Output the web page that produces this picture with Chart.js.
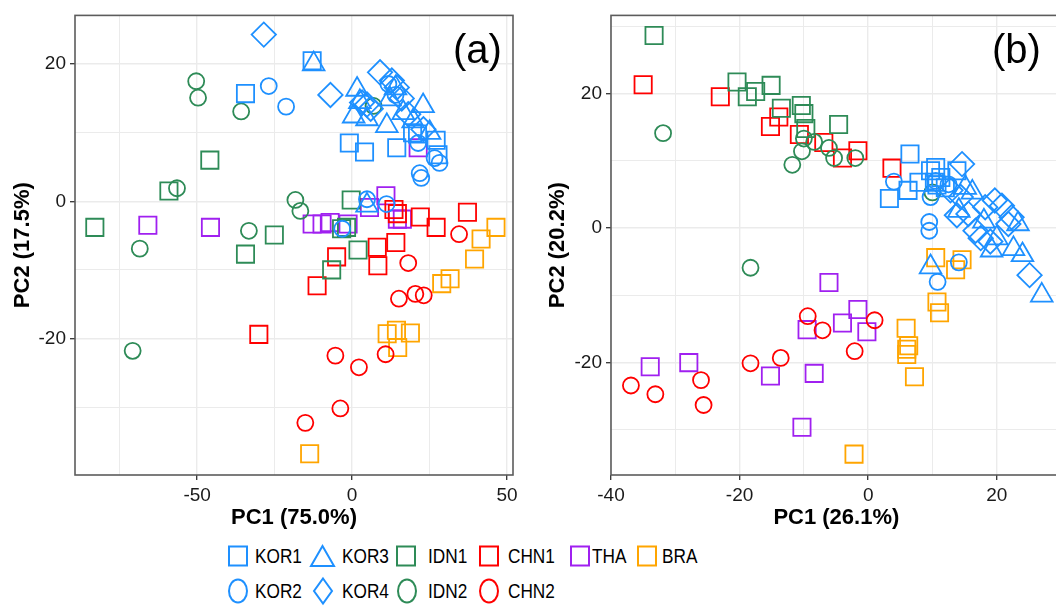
<!DOCTYPE html>
<html lang="en">
<head>
<meta charset="UTF-8">
<title>PCA score plots (a) and (b)</title>
<script src="https://cdn.jsdelivr.net/npm/chart.js@4.4.0/dist/chart.umd.min.js"></script>
<style>
  *{box-sizing:border-box;margin:0;padding:0}
  html,body{width:1056px;height:606px;overflow:hidden;background:#fff}
  body{position:relative;font-family:'Liberation Sans',Arial,sans-serif;color:#000}
  canvas{position:absolute;top:0}
  #pa{left:0}
  #pb{left:540px}
  .tag{position:absolute;top:25px;font-size:40px;line-height:48px}
  /* legend */
  .key{position:absolute;height:28px;font-size:21px;line-height:28px;white-space:nowrap}
  .key svg{position:absolute;top:50%;transform:translateY(-50%);overflow:visible}
  .key span{position:absolute;top:0;transform:scaleX(.82);transform-origin:0 50%}
</style>
</head>
<body>
<canvas id="pa" width="530" height="540"></canvas>
<canvas id="pb" width="536" height="540"></canvas>
<div class="tag" style="left:453px">(a)</div>
<div class="tag" style="left:992px">(b)</div>
<div id="legend"></div>

<script>
// groups, in legend / factor order
const groups = ['KOR1','KOR2','KOR3','KOR4','IDN1','IDN2','CHN1','CHN2','THA','BRA'];

// panel (a) scores: [PC1, PC2]
const a_KOR1 = [[-34.4,15.7],[-12.9,20.5],[-0.9,8.5],[4.0,7.2],[14.4,7.8],[19.5,10.0],[21.1,9.8],[27.1,8.9],[27.7,6.8]];
const a_KOR2 = [[-26.9,16.8],[-21.3,13.8],[4.8,0.3],[11.1,-0.4],[-3.2,-4.0],[11.7,17.1],[21.3,8.5],[28.2,5.6],[21.8,4.1],[22.3,3.4],[26.6,6.3],[14.0,15.5]];
const a_KOR3 = [[-12.4,20.0],[1.6,16.3],[0.5,12.4],[4.8,12.0],[12.2,14.9],[22.9,13.9],[11.2,11.0],[16.5,12.9],[19.7,11.7],[4.8,-0.6],[2.5,14.5],[14.0,16.5],[25.0,10.0]];
const a_KOR4 = [[-28.5,24.3],[-7.0,15.5],[9.0,18.8],[12.8,17.6],[3.2,14.4],[4.8,14.1],[14.4,16.6],[18.1,12.7],[6.0,13.5],[23.0,10.5],[16.0,15.0]];
const a_IDN1 = [[-45.9,6.0],[-59.1,1.5],[-83.0,-3.8],[-25.1,-4.9],[-34.4,-7.7],[-0.3,0.2],[-3.4,-4.0],[-1.8,-3.8],[1.9,-7.1],[-6.6,-10.0]];
const a_IDN2 = [[-50.3,17.5],[-49.7,15.1],[-35.8,13.1],[-56.5,1.9],[-33.3,-4.3],[-68.5,-6.9],[-18.3,0.2],[-16.7,-1.4],[-70.8,-21.8],[6.9,13.9]];
const a_CHN1 = [[-30.1,-19.4],[13.5,-1.2],[14.6,-1.8],[22.0,-2.3],[37.2,-1.6],[27.1,-3.8],[14.1,-6.0],[8.1,-6.7],[-5.0,-8.1],[8.3,-9.4],[-11.3,-12.3]];
const a_CHN2 = [[34.5,-4.8],[18.1,-9.0],[15.1,-14.2],[20.4,-13.5],[23.1,-13.7],[-5.4,-22.5],[2.2,-24.2],[10.8,-22.3],[-3.8,-30.2],[-15.1,-32.3]];
const a_THA  = [[-65.9,-3.5],[-45.7,-3.8],[-12.9,-3.3],[-9.7,-3.3],[-7.1,-3.1],[-1.3,-3.3],[5.6,-0.9],[10.9,0.8],[14.6,-2.6],[16.2,-2.6],[21.3,7.8]];
const a_BRA  = [[46.4,-3.8],[41.6,-5.5],[39.5,-8.4],[28.9,-12.0],[31.6,-11.3],[11.3,-19.3],[14.3,-18.8],[18.8,-19.2],[14.7,-21.3],[-13.7,-36.8]];

// panel (b) scores
const b_KOR1 = [[6.5,11.0],[3.3,4.4],[6.2,5.6],[7.9,6.8],[9.7,8.5],[10.5,9.0],[10.3,6.8],[11.3,7.5],[13.8,8.5],[10.7,6.4],[12.0,6.0]];
const b_KOR2 = [[4.0,6.9],[9.7,4.6],[10.5,7.0],[9.5,0.9],[9.5,-0.4],[10.8,-8.0],[14.1,-5.1],[12.5,6.5]];
const b_KOR3 = [[15.1,6.0],[16.2,5.3],[19.2,-3.3],[22.6,-3.1],[14.1,2.6],[23.3,0.6],[9.7,-5.8],[27.0,-10.0],[18.0,1.0],[20.0,-1.5],[24.0,-4.0]];
const b_KOR4 = [[14.6,9.5],[12.8,5.6],[14.4,4.6],[13.8,1.9],[15.6,2.1],[16.7,-0.4],[18.2,3.1],[19.7,4.1],[20.8,3.3],[22.3,1.6],[21.8,0.6],[25.1,-7.0],[17.5,-1.5],[19.0,-2.0]];
const b_IDN1 = [[-33.3,28.6],[-20.4,21.7],[-18.8,19.5],[-17.5,20.3],[-15.1,21.2],[-13.5,17.8],[-10.4,18.2],[-10.0,17.0],[-9.7,14.8],[-4.6,15.4]];
const b_IDN2 = [[-31.9,14.1],[-10.0,13.3],[-8.4,12.8],[-10.3,11.4],[-11.8,9.4],[-6.1,11.9],[-5.3,10.4],[-2.0,10.4],[10.0,5.3],[-18.3,-5.9]];
const b_CHN1 = [[-35.0,21.3],[-23.0,19.5],[-13.9,16.5],[-15.2,15.1],[-10.7,13.9],[-6.9,12.7],[-4.0,10.4],[-1.6,11.5],[3.7,8.9]];
const b_CHN2 = [[-9.4,-13.1],[1.0,-13.7],[-7.1,-15.2],[-2.1,-18.3],[-18.3,-20.1],[-13.6,-19.3],[-36.9,-23.4],[-33.1,-24.7],[-26.0,-22.6],[-25.6,-26.3]];
const b_THA  = [[-6.1,-8.1],[-1.6,-12.1],[-4.0,-14.1],[-9.5,-15.1],[-0.2,-15.4],[-15.2,-22.0],[-8.4,-21.6],[-33.9,-20.6],[-27.9,-20.0],[-10.3,-29.6]];
const b_BRA  = [[10.5,-4.4],[14.6,-4.7],[13.6,-6.2],[10.7,-11.0],[11.1,-12.6],[5.9,-14.9],[6.0,-18.0],[6.0,-18.8],[6.3,-17.5],[7.2,-22.1],[-2.2,-33.6]];

// grid positions and labelled ticks
const a_xTicks = [-75,-50,-25,0,25,50], a_xLabels = [-50,0,50];
const a_yTicks = [-30,-20,-10,0,10,20], a_yLabels = [-20,0,20];
const b_xTicks = [-40,-30,-20,-10,0,10,20], b_xLabels = [-40,-20,0,20];
const b_yTicks = [-30,-20,-10,0,10,20,30], b_yLabels = [-20,0,20];

const a_titles = ['PC1 (75.0%)','PC2 (17.5%)'];
const b_titles = ['PC1 (26.1%)','PC2 (20.2%)'];

/* styling */
const colour = {KOR1:'#1E90FF',KOR2:'#1E90FF',KOR3:'#1E90FF',KOR4:'#1E90FF',IDN1:'#2E8B57',IDN2:'#2E8B57',CHN1:'#FF0000',CHN2:'#FF0000',THA:'#A020F0',BRA:'#FFA500'};
const shape = {KOR1:'rect',KOR2:'circle',KOR3:'triangle',KOR4:'rectRot',IDN1:'rect',IDN2:'circle',CHN1:'rect',CHN2:'circle',THA:'rect',BRA:'rect'};
const size = {rect:12.2,circle:8,triangle:12.5,rectRot:12.2};

const frame = {id:'frame',afterDatasetsDraw(c){const {ctx,chartArea:a}=c;ctx.save();ctx.strokeStyle='#5c5c5c';ctx.lineWidth=1.6;ctx.strokeRect(a.left,a.top,a.right-a.left,a.bottom-a.top);ctx.restore();}};

function axis(ticks,labels,min,max,title,fit,titlePad){
  return {
    type:'linear',min:min,max:max,
    afterBuildTicks:s=>{s.ticks=ticks.filter(v=>v>=min&&v<=max).map(v=>({value:v}))},
    afterFit:fit,
    border:{display:false},
    grid:{color:'#ebebeb',lineWidth:c=>labels.includes(c.tick.value)?1.4:1,tickLength:5,tickWidth:1.3,
      tickColor:c=>labels.includes(c.tick.value)?'#333':'rgba(0,0,0,0)'},
    ticks:{autoSkip:false,maxRotation:0,padding:4,color:'#1a1a1a',font:{family:"'Liberation Sans', Arial, sans-serif",size:19},
      callback:v=>labels.includes(v)?String(v):''},
    title:{display:true,text:title,color:'#000',padding:titlePad,font:{family:"'Liberation Sans', Arial, sans-serif",size:22,weight:'bold'}}
  };
}

function panel(id,data,xr,yr,xt,xl,yt,yl,titles,yw,ytp,rightPad){
  const sets = groups.map((g,i)=>({label:g,data:data[i].map(p=>({x:p[0],y:p[1]})),pointStyle:shape[g],
    pointRadius:size[shape[g]],pointBorderWidth:1.8,pointBorderColor:colour[g],pointBackgroundColor:'rgba(0,0,0,0)',clip:0}));
  new Chart(document.getElementById(id),{
    type:'scatter',data:{datasets:sets},plugins:[frame],
    options:{responsive:false,animation:false,events:[],
      layout:{padding:{left:0,top:14,right:rightPad,bottom:0}},
      plugins:{legend:{display:false},tooltip:{enabled:false}},
      scales:{
        x:axis(xt,xl,xr[0],xr[1],titles[0],s=>{s.height=65},{top:0,bottom:9}),
        y:axis(yt,yl,yr[0],yr[1],titles[1],s=>{s.width=yw},{top:ytp,bottom:0})
      }}
  });
}

panel('pa',[a_KOR1,a_KOR2,a_KOR3,a_KOR4,a_IDN1,a_IDN2,a_CHN1,a_CHN2,a_THA,a_BRA],
  [-89.4,51.9],[-39.9,27.1],a_xTicks,a_xLabels,a_yTicks,a_yLabels,a_titles,75,9.8,17);
panel('pb',[b_KOR1,b_KOR2,b_KOR3,b_KOR4,b_IDN1,b_IDN2,b_CHN1,b_CHN2,b_THA,b_BRA],
  [-40,30.1],[-36.7,31.6],b_xTicks,b_xLabels,b_yTicks,b_yLabels,b_titles,71,4.8,8);

/* legend: two rows, filled column by column */
const legendRows = [['KOR1','KOR3','IDN1','CHN1','THA','BRA'],['KOR2','KOR4','IDN2','CHN2']];
const keyX = [[228,310,396,479,570,637],[228,313,397,479]];
const textX = [[255,342,428,508,592,662],[255,342,428,508]];
const rowY = [556,591];
function icon(g){
  const c=colour[g],s=shape[g],w='stroke="'+c+'" stroke-width="2" fill="none"';
  if(s==='rect') return '<svg width="20" height="21"><rect x="1" y="1" width="18" height="19" '+w+'/></svg>';
  if(s==='circle') return '<svg width="20" height="25"><ellipse cx="10" cy="12.5" rx="9" ry="11.5" '+w+'/></svg>';
  if(s==='triangle') return '<svg width="25" height="22"><polygon points="12.5,1 24,21 1,21" '+w+'/></svg>';
  return '<svg width="20" height="27"><polygon points="10,1 19,13.5 10,26 1,13.5" '+w+'/></svg>';
}
let html='';
legendRows.forEach((row,r)=>row.forEach((g,i)=>{
  html+='<div class="key" style="left:'+keyX[r][i]+'px;top:'+(rowY[r]-14)+'px;width:'+(textX[r][i]-keyX[r][i]+60)+'px">'+icon(g)+
    '<span style="left:'+(textX[r][i]-keyX[r][i])+'px">'+g+'</span></div>';
}));
document.getElementById('legend').innerHTML=html;
</script>
</body>
</html>
